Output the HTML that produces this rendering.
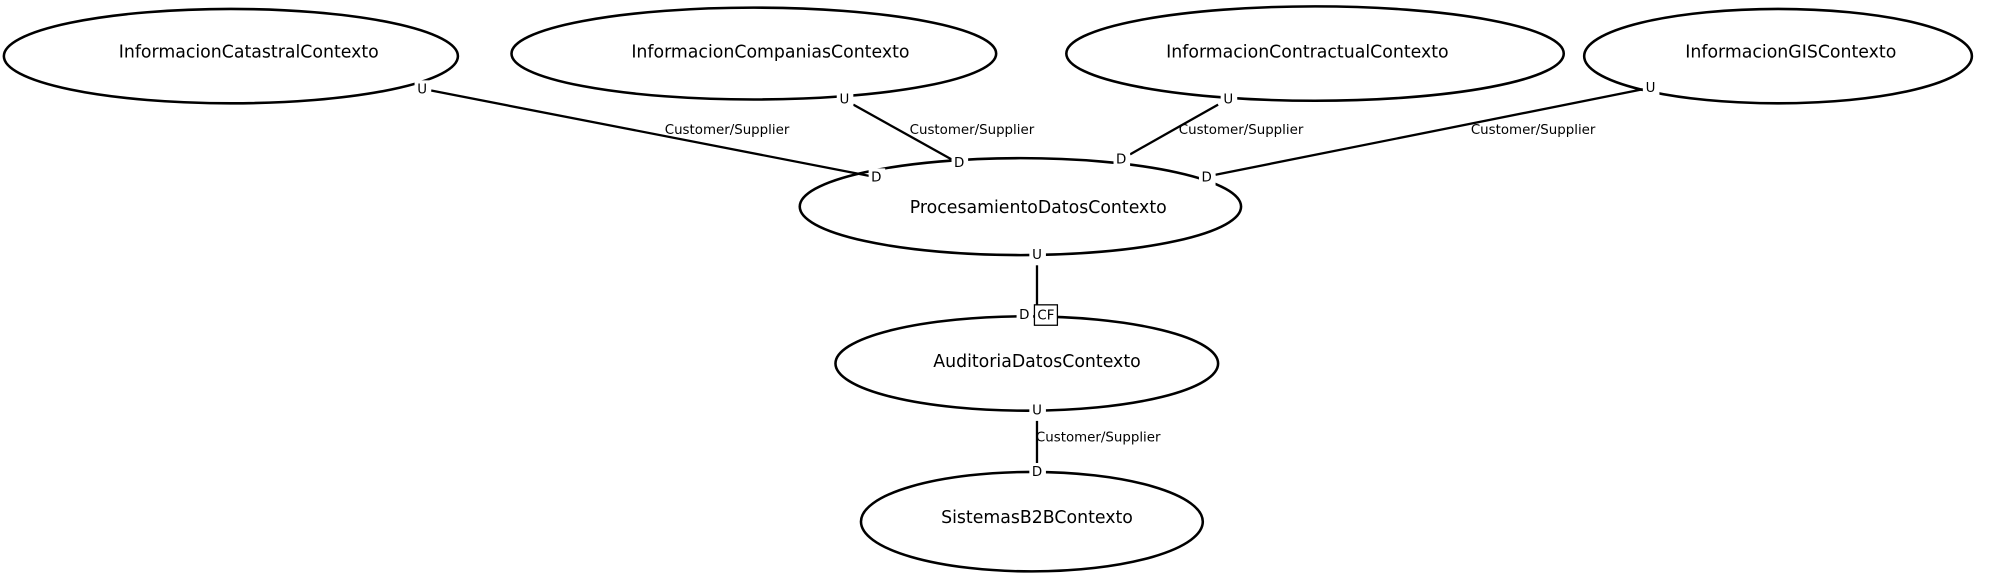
<!DOCTYPE html>
<html><head><meta charset="utf-8"><style>
html,body{margin:0;padding:0;background:#fff;}
svg{display:block;}
text{font-family:"DejaVu Sans","Liberation Sans",sans-serif;fill:#000;}
.n{font-size:13.6px;text-anchor:middle;dominant-baseline:middle;}
.s{font-size:10.5px;text-anchor:middle;dominant-baseline:middle;}
.e{fill:none;stroke:#000;stroke-width:2;}
.l{stroke:#000;stroke-width:1.8;fill:none;}
.bg{fill:#fff;}
</style></head><body>
<svg width="2000" height="576" viewBox="0 0 1568 451.6" xmlns="http://www.w3.org/2000/svg">
<ellipse class="e" cx="181" cy="44" rx="178" ry="37"/>
<ellipse class="e" cx="591" cy="42" rx="190" ry="36"/>
<ellipse class="e" cx="1031" cy="42" rx="195" ry="37"/>
<ellipse class="e" cx="1394" cy="44" rx="152" ry="37"/>
<ellipse class="e" cx="800" cy="162" rx="173" ry="38"/>
<ellipse class="e" cx="805" cy="285" rx="150" ry="37"/>
<ellipse class="e" cx="809" cy="409" rx="134" ry="39"/>

<line class="l" x1="338" y1="71" x2="682" y2="138"/>
<line class="l" x1="669" y1="82" x2="746" y2="125"/>
<line class="l" x1="955" y1="82" x2="886" y2="121"/>
<line class="l" x1="1288" y1="70" x2="953" y2="137"/>
<line class="l" x1="813" y1="208" x2="813" y2="240"/>
<line class="l" x1="813" y1="330" x2="813" y2="363"/>

<g>
<rect class="bg" x="325" y="63" width="13" height="14"/><text class="s" x="331" y="70">U</text>
<rect class="bg" x="681" y="132" width="13" height="14"/><text class="s" x="687" y="139">D</text>
<rect class="bg" x="656" y="71" width="13" height="14"/><text class="s" x="662" y="78">U</text>
<rect class="bg" x="746" y="121" width="13" height="14"/><text class="s" x="752" y="128">D</text>
<rect class="bg" x="957" y="71" width="13" height="14"/><text class="s" x="963" y="78">U</text>
<rect class="bg" x="873" y="118" width="13" height="14"/><text class="s" x="879" y="125">D</text>
<rect class="bg" x="1288" y="62" width="13" height="14"/><text class="s" x="1294" y="69">U</text>
<rect class="bg" x="940" y="132" width="13" height="14"/><text class="s" x="946" y="139">D</text>
<rect class="bg" x="807" y="193" width="13" height="14"/><text class="s" x="813" y="200">U</text>
<rect class="bg" x="797" y="240" width="13" height="14"/><text class="s" x="803" y="247">D</text>
<rect x="811" y="239" width="18" height="16" fill="#fff" stroke="#000" stroke-width="1"/><text class="s" x="820" y="247.5">CF</text>
<rect class="bg" x="807" y="315" width="13" height="14"/><text class="s" x="813" y="322">U</text>
<rect class="bg" x="807" y="363" width="13" height="14"/><text class="s" x="813" y="370">D</text>
</g>

<text class="s" x="570" y="102">Customer/Supplier</text>
<text class="s" x="762" y="102">Customer/Supplier</text>
<text class="s" x="973" y="102">Customer/Supplier</text>
<text class="s" x="1202" y="102">Customer/Supplier</text>
<text class="s" x="861" y="343">Customer/Supplier</text>

<text class="n" x="195" y="41">InformacionCatastralContexto</text>
<text class="n" x="604" y="41">InformacionCompaniasContexto</text>
<text class="n" x="1025" y="41">InformacionContractualContexto</text>
<text class="n" x="1404" y="41">InformacionGISContexto</text>
<text class="n" x="814" y="163">ProcesamientoDatosContexto</text>
<text class="n" x="813" y="284">AuditoriaDatosContexto</text>
<text class="n" x="813" y="406">SistemasB2BContexto</text>
</svg>
</body></html>
